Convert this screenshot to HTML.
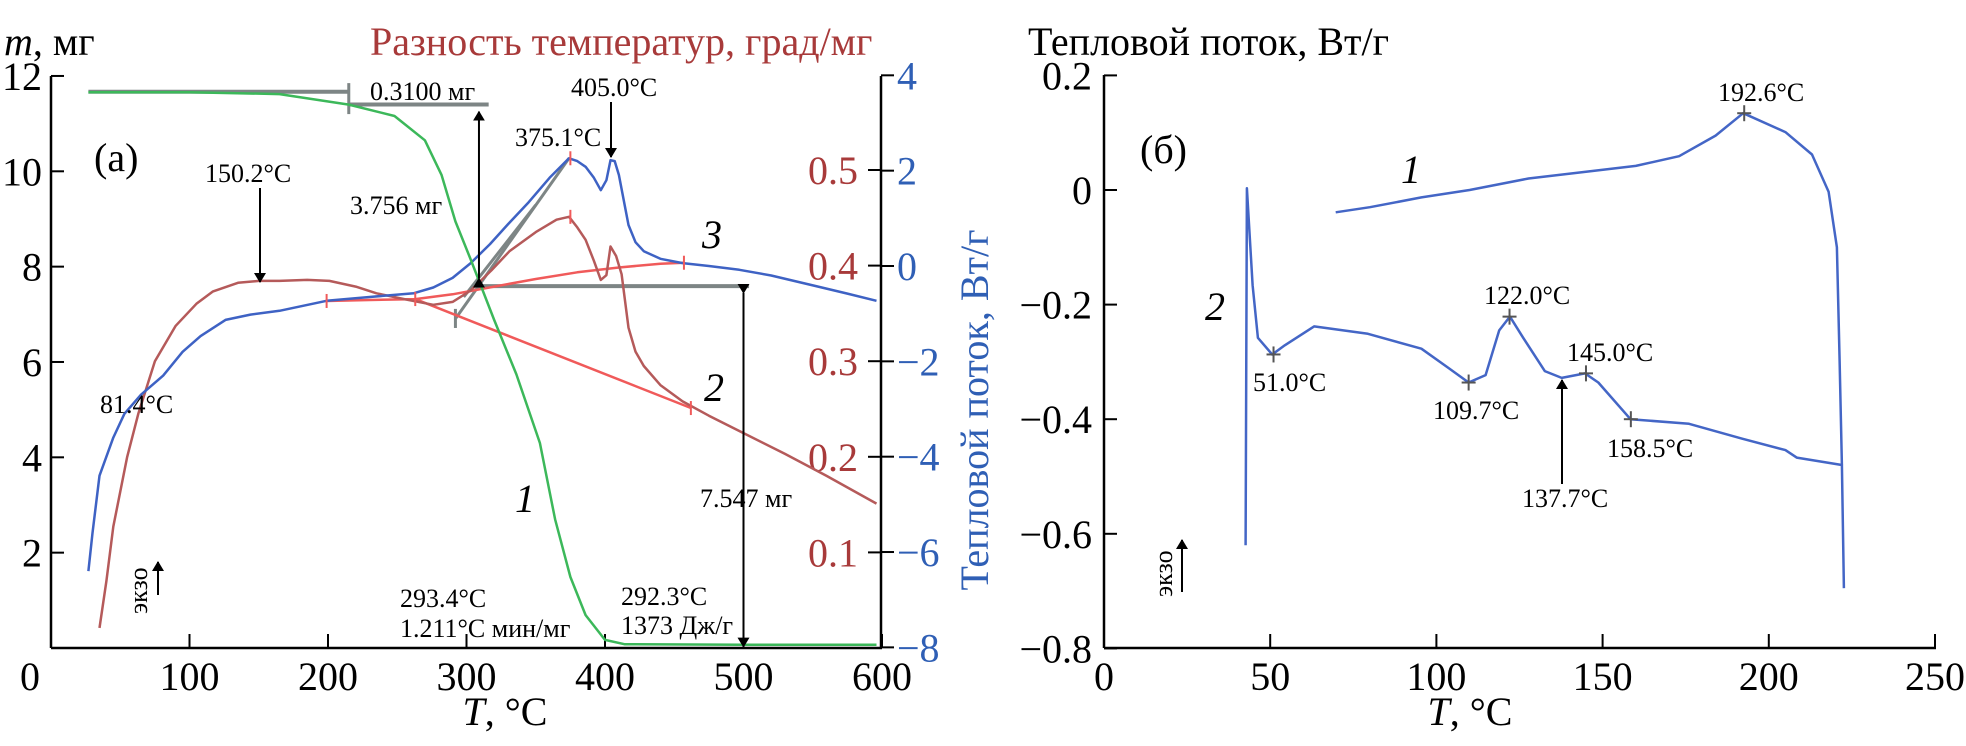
<!DOCTYPE html>
<html><head><meta charset="utf-8"><style>
body{margin:0;background:#fff}
svg{display:block;font-family:"Liberation Serif","DejaVu Serif",serif}
</style></head><body>
<svg id="fig" width="1966" height="746" viewBox="0 0 1966 746" xmlns="http://www.w3.org/2000/svg">
<defs>
<marker id="ah" markerWidth="10" markerHeight="12" refX="9" refY="6" orient="auto" markerUnits="userSpaceOnUse"><path d="M0,0 L10,6 L0,12 Z" fill="#000"/></marker>
</defs>
<g id="chartA"></g>
<g id="chartB"></g>
</svg>
<script>
// ---------- Chart (a) data ----------
const massT = [27,100,165,215,248,270,282,292,303,320,336,353,364,375,386,400,414,500,596];
const massV = [11.66,11.66,11.62,11.40,11.16,10.65,9.92,8.95,8.15,6.88,5.74,4.30,2.70,1.49,0.69,0.17,0.08,0.07,0.07];
const dtaT = [35,40,45,55,63,75,90,105,117,135,150,165,185,201,220,235,255,276,290,303,318,331,350,365,374,380,386,392,397,401,404,408,412,417,422,428,440,456,475,497,530,560,596];
const dtaV = [0.021,0.07,0.127,0.2,0.245,0.3,0.337,0.36,0.373,0.382,0.384,0.384,0.385,0.384,0.378,0.371,0.365,0.359,0.362,0.374,0.395,0.415,0.435,0.448,0.451,0.44,0.427,0.405,0.385,0.39,0.42,0.41,0.391,0.335,0.31,0.295,0.275,0.258,0.243,0.227,0.203,0.18,0.151];
const hfT = [27,30,35,45,53,65,81,95,108,126,144,165,199,230,262,276,290,303,317,330,345,360,374,380,386,392,397,401,404,407,410,417,422,428,440,456,475,497,520,552,575,596];
const hfV = [-6.4,-5.6,-4.4,-3.6,-3.1,-2.7,-2.3,-1.8,-1.47,-1.13,-1.02,-0.94,-0.73,-0.65,-0.57,-0.45,-0.25,0.06,0.46,0.88,1.34,1.85,2.26,2.2,2.08,1.85,1.59,1.8,2.22,2.2,1.91,0.86,0.5,0.31,0.15,0.06,0.0,-0.08,-0.2,-0.42,-0.58,-0.73];
const baseAT = [199,230,263,290,320,350,380,410,440,457];
const baseAV = [0.363,0.364,0.365,0.37,0.378,0.386,0.393,0.398,0.402,0.403];
const baseBT = [263,462];
const baseBV = [0.365,0.251];
const xTicksA = [0,100,200,300,400,500,600];
const massTicks = [2,4,6,8,10,12];
const dtaTicks = [0.1,0.2,0.3,0.4,0.5];
const hfTicks = [-8,-6,-4,-2,0,2,4];
// ---------- Chart (б) data ----------
const c1T = [69.7,80,95.5,110,127.7,145,160,173,184,192.3,205,213,218,220.5,221.3,222];
const c1V = [-0.039,-0.03,-0.013,0.0,0.02,0.032,0.042,0.059,0.095,0.134,0.101,0.062,-0.003,-0.10,-0.297,-0.48];
const c2T = [42.6,43,44.7,46.3,50.6,54.4,63.2,79.4,95.5,103.5,109.7,114.8,118.9,122.1,126.1,132.6,137.7,144.7,148.7,158.4,176,192,205,208.4,222,222.6];
const c2V = [-0.62,0.003,-0.166,-0.258,-0.287,-0.271,-0.238,-0.251,-0.277,-0.31,-0.336,-0.323,-0.245,-0.221,-0.258,-0.316,-0.328,-0.32,-0.336,-0.40,-0.408,-0.434,-0.454,-0.467,-0.48,-0.695];
const xTicksB = [0,50,100,150,200,250];
const yTicksB = [-0.8,-0.6,-0.4,-0.2,0,0.2];

const NS="http://www.w3.org/2000/svg";
function mk(parent,tag,attrs,text){const e=document.createElementNS(NS,tag);for(const k in attrs)e.setAttribute(k,attrs[k]);if(text!==undefined)e.textContent=text;parent.appendChild(e);return e;}
function fmt(v){return (v<0?"\u2212":"")+Math.abs(v);}

const xA=t=>51+1.385*t;
const yM=m=>648-47.67*m;
const yR=r=>648-956*r;
const yH=h=>266-47.67*h;
const xB=t=>1104+3.324*t;
const yB=v=>190-573*v;

function poly(g,T,V,xs,ys,color,w,name){
  const p=T.map((t,i)=>xs(t).toFixed(1)+","+ys(V[i]).toFixed(1)).join(" ");
  const e=mk(g,"polyline",{points:p,fill:"none",stroke:color,"stroke-width":w,"stroke-linejoin":"round"});
  
  
  return e;
}
function txt(g,x,y,s,size,opts,name){
  const a=Object.assign({x:x,y:y,"font-size":size},opts||{});
  const e=mk(g,"text",a,s);
  
  
  return e;
}
function line(g,x1,y1,x2,y2,c,w,name,extra){
  const e=mk(g,"line",Object.assign({x1:x1,y1:y1,x2:x2,y2:y2,stroke:c,"stroke-width":w},extra||{}));
  
  
  return e;
}
const AF=26;

const A=document.getElementById("chartA");
const RED="#a83a3a", BLUE="#2f5fb5", GREEN="#3cb85a", LRED="#f05a5a", GRAY="#7d8585";
line(A,51,76,51,648,"#000",2.5,"left-axis");
line(A,51,648,882,648,"#000",2.5,"x-axis");
line(A,881,76,881,648,"#000",2.5,"right-axis");
xTicksA.forEach(t=>{
  line(A,xA(t),648,xA(t),634,"#000",2,"x-tick");
  txt(A,t===0?30:xA(t),690,String(t),40,{"text-anchor":"middle"},"x-tick-label");
});
massTicks.forEach(m=>{
  line(A,51,yM(m),64,yM(m),"#000",2,"mass-tick");
  txt(A,42,yM(m)+14,String(m),40,{"text-anchor":"end"},"mass-tick-label");
});
dtaTicks.forEach(r=>{
  line(A,868,yR(r),881,yR(r),"#000",2,"dta-tick");
  txt(A,858,yR(r)+14,String(r),40,{"text-anchor":"end",fill:RED},"dta-tick-label");
});
hfTicks.forEach(h=>{
  line(A,881,yH(h),894,yH(h),"#000",2,"heatflow-tick");
  txt(A,897,yH(h)+14,fmt(h),40,{fill:BLUE},"heatflow-tick-label");
});
const mt=txt(A,4,55,"",40,{},"mass-axis-title");
mk(mt,"tspan",{"font-style":"italic"},"m");mk(mt,"tspan",{},", мг");
txt(A,370,55,"Разность температур, град/мг",40,{fill:RED},"dta-axis-title");
txt(A,988,410,"Тепловой поток, Вт/г",40,{fill:BLUE,"text-anchor":"middle",transform:"rotate(-90 988 410)"},"heatflow-axis-title");
const xt=txt(A,505,725,"",40,{"text-anchor":"middle"},"x-axis-title");
mk(xt,"tspan",{"font-style":"italic"},"T");mk(xt,"tspan",{},", °C");
txt(A,94,171,"(а)",40,{},"panel-label-a");

line(A,xA(27),yM(11.67),xA(215),yM(11.67),GRAY,4,"mass-baseline-1");
line(A,xA(215),yM(11.85),xA(215),yM(11.2),GRAY,3,"mass-step-tick");
line(A,xA(215),yM(11.4),xA(316),yM(11.4),GRAY,4,"mass-baseline-2");
line(A,xA(309),yM(7.59),xA(504),yM(7.59),GRAY,4,"mass-baseline-3");
line(A,xA(292.4),yH(-1.09),xA(374),yH(2.26),GRAY,3,"tangent-1");
line(A,xA(298),yH(-0.65),xA(350),yH(1.28),GRAY,3,"tangent-2");
line(A,xA(292),yH(-1.3),xA(292),yH(-0.9),GRAY,3,"tangent-tick");

poly(A,baseAT,baseAV,xA,yR,LRED,2.5,"dta-baseline-a");
poly(A,baseBT,baseBV,xA,yR,LRED,2.5,"dta-baseline-b");
poly(A,dtaT,dtaV,xA,yR,"#b55a5a",2.5,"dta-curve-2");
poly(A,hfT,hfV,xA,yH,"#3e62c4",2.5,"heatflow-curve-3");
poly(A,massT,massV,xA,yM,GREEN,2.5,"mass-curve-1");
[199,263,457].forEach(t=>{const i=baseAT.indexOf(t);line(A,xA(t),yR(baseAV[i])-7,xA(t),yR(baseAV[i])+7,LRED,2,"baseline-marker");});
line(A,xA(462),yR(0.251)-7,xA(462),yR(0.251)+7,LRED,2,"baseline-marker");
line(A,xA(375),yH(2.26)-7,xA(375),yH(2.26)+7,LRED,2,"peak-marker");
line(A,xA(375),yR(0.451)-7,xA(375),yR(0.451)+7,LRED,2,"peak-marker");

line(A,xA(309),yM(7.75),xA(309),yM(11.25),"#000",2,"arrow-3756",{"marker-end":"url(#ah)","marker-start":"url(#ah)"});
line(A,xA(500),yM(7.45),xA(500),yM(0.03),"#000",2,"arrow-7547",{"marker-end":"url(#ah)","marker-start":"url(#ah)"});
line(A,611,102,611,157,"#000",2,"arrow-405",{"marker-end":"url(#ah)"});
line(A,260,188,260,282,"#000",2,"arrow-150",{"marker-end":"url(#ah)"});
line(A,158,595,158,562,"#000",2,"exo-arrow-a",{"marker-end":"url(#ah)"});
txt(A,147,614,"экзо",26,{transform:"rotate(-90 147 614)"},"exo-label-a");

txt(A,370,100,"0.3100 мг",AF,{},"annot-03100");
txt(A,571,96,"405.0°C",AF,{},"annot-405");
txt(A,515,146,"375.1°C",AF,{},"annot-375");
txt(A,350,214,"3.756 мг",AF,{},"annot-3756");
txt(A,205,182,"150.2°C",AF,{},"annot-150");
txt(A,100,413,"81.4°C",AF,{},"annot-81");
txt(A,700,507,"7.547 мг",AF,{},"annot-7547");
txt(A,400,607,"293.4°C",AF,{},"annot-2934");
txt(A,400,637,"1.211°C мин/мг",AF,{},"annot-1211");
txt(A,621,605,"292.3°C",AF,{},"annot-2923");
txt(A,621,634,"1373 Дж/г",AF,{},"annot-1373");
txt(A,702,248,"3",40,{"font-style":"italic"},"curve-label-3");
txt(A,704,401,"2",40,{"font-style":"italic"},"curve-label-2");
txt(A,515,512,"1",40,{"font-style":"italic"},"curve-label-1");

const B=document.getElementById("chartB");
line(B,1104,75,1104,648,"#000",2.5,"b-left-axis");
line(B,1104,648,1936,648,"#000",2.5,"b-x-axis");
xTicksB.forEach(t=>{
  line(B,xB(t),648,xB(t),634,"#000",2,"b-x-tick");
  txt(B,xB(t),690,String(t),40,{"text-anchor":"middle"},"b-x-tick-label");
});
yTicksB.forEach(v=>{
  line(B,1104,yB(v),1117,yB(v),"#000",2,"b-y-tick");
  txt(B,1092,yB(v)+14,fmt(v),40,{"text-anchor":"end"},"b-y-tick-label");
});
txt(B,1028,55,"Тепловой поток, Вт/г",40,{},"b-y-axis-title");
const xt2=txt(B,1470,725,"",40,{"text-anchor":"middle"},"b-x-axis-title");
mk(xt2,"tspan",{"font-style":"italic"},"T");mk(xt2,"tspan",{},", °C");
txt(B,1140,163,"(б)",40,{},"panel-label-b");
poly(B,c1T,c1V,xB,yB,"#4466c6",2.5,"b-curve-1");
poly(B,c2T,c2V,xB,yB,"#4466c6",2.5,"b-curve-2");
[[51.0,-0.287],[109.7,-0.336],[122.0,-0.221],[145.0,-0.32],[158.5,-0.40],[192.6,0.134]].forEach(p=>{
  line(B,xB(p[0])-7,yB(p[1]),xB(p[0])+7,yB(p[1]),"#555",2,"peak-cross");
  line(B,xB(p[0]),yB(p[1])-8,xB(p[0]),yB(p[1])+8,"#555",2,"peak-cross");
});
txt(B,1718,101,"192.6°C",AF,{},"b-annot-1926");
txt(B,1484,304,"122.0°C",AF,{},"b-annot-1220");
txt(B,1253,391,"51.0°C",AF,{},"b-annot-510");
txt(B,1433,419,"109.7°C",AF,{},"b-annot-1097");
txt(B,1567,361,"145.0°C",AF,{},"b-annot-1450");
txt(B,1607,457,"158.5°C",AF,{},"b-annot-1585");
txt(B,1522,507,"137.7°C",AF,{},"b-annot-1377");
line(B,1562,484,1562,380,"#000",2,"b-arrow-1377",{"marker-end":"url(#ah)"});
txt(B,1401,183,"1",40,{"font-style":"italic"},"b-curve-label-1");
txt(B,1205,320,"2",40,{"font-style":"italic"},"b-curve-label-2");
line(B,1182,592,1182,540,"#000",2,"b-exo-arrow",{"marker-end":"url(#ah)"});
txt(B,1172,597,"экзо",26,{transform:"rotate(-90 1172 597)"},"b-exo-label");
</script>
</body></html>
